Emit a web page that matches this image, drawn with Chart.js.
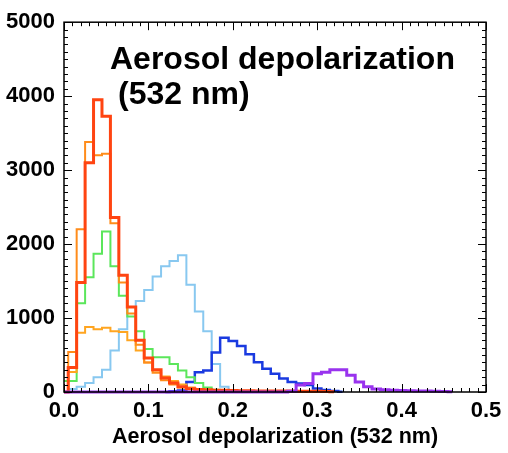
<!DOCTYPE html>
<html>
<head>
<meta charset="utf-8">
<script src="https://cdn.jsdelivr.net/npm/chart.js@4/dist/chart.umd.min.js"></script>
<style>
  html, body { margin: 0; padding: 0; background: #fff; }
</style>
</head>
<body>
<canvas id="depolChart" width="508" height="453"></canvas>
<script>
// histogram bin centres (aerosol depolarization ratio)
const depol = [0.00, 0.01, 0.02, 0.03, 0.04, 0.05, 0.06, 0.07, 0.08, 0.09,
               0.10, 0.11, 0.12, 0.13, 0.14, 0.15, 0.16, 0.17, 0.18, 0.19,
               0.20, 0.21, 0.22, 0.23, 0.24, 0.25, 0.26, 0.27, 0.28, 0.29,
               0.30, 0.31, 0.32, 0.33, 0.34, 0.35, 0.36, 0.37, 0.38, 0.39,
               0.40, 0.41, 0.42, 0.43, 0.44, 0.45, 0.46];

// counts per bin for each aerosol type
const countsRed = [0, 330, 1480, 3100, 3950, 3730, 2360, 1580, 1150, 700,
                   460, 300, 190, 120, 70, 45, 35, 30, 25, 22,
                   20, 18, 16, 15, 14, 13, 12, 12, 11, 10,
                   10, 8, 5, null, null, null, null, null, null, null,
                   null, null, null, null, null, null, null];
const countsOrange = [0, 540, 2200, 3380, 3200, 3220, 2280, 1480, 1060, 640,
                      400, 260, 160, 100, 60, 40, 30, 25, 20, 18,
                      16, 14, 12, 11, 10, 9, 8, 8, 7, 6,
                      5, null, null, null, null, null, null, null, null, null,
                      null, null, null, null, null, null, null];
const countsLtOrange = [0, 270, 800, 880, 850, 870, 820, 810, 700, 560,
                        400, 290, 210, 150, 100, 60, 40, 28, 20, 15,
                        12, 10, 9, 8, 7, 6, 5, 5, 4, 3,
                        2, null, null, null, null, null, null, null, null, null,
                        null, null, null, null, null, null, null];
const countsGreen = [150, 150, 1200, 1550, 1870, 2170, 1700, 1300, 1020, 820,
                     580, 470, 470, 380, 290, 200, 120, 60, 30, 15,
                     8, null, null, null, null, null, null, null, null, null,
                     null, null, null, null, null, null, null, null, null, null,
                     null, null, null, null, null, null, null];
const countsLtBlue = [0, 40, 70, 120, 200, 300, 560, 850, 1150, 1230,
                      1380, 1560, 1700, 1770, 1850, 1450, 1090, 820, 380, 70,
                      10, null, null, null, null, null, null, null, null, null,
                      null, null, null, null, null, null, null, null, null, null,
                      null, null, null, null, null, null, null];
const countsBlue = [null, null, null, null, null, null, null, null, null, null,
                    null, null, 0, 10, 20, 136, 268, 291, 533, 732,
                    688, 622, 512, 401, 313, 247, 181, 136, 115, 93,
                    49, 26, 12, 5, null, null, null, null, null, null,
                    null, null, null, null, null, null, null];
const countsPurple = [0, 0, 0, 0, 0, 0, 0, 0, 0, 0,
                      0, 0, 0, 0, 0, 0, 0, 0, 0, 0,
                      0, 0, 0, 0, 0, 0, 0, 10, 93, 115,
                      247, 268, 300, 300, 225, 136, 70, 40, 30, 25,
                      20, 18, 15, 12, 10, 8, 5];

const xTicks = [0.0, 0.1, 0.2, 0.3, 0.4, 0.5];
const yTicks = [0, 1000, 2000, 3000, 4000, 5000];

const toPoints = counts => depol.map((d, i) => ({ x: d, y: counts[i] }));

const series = [
  { data: countsPurple, color: '#9933ee', width: 3 },
  { data: countsRed, color: '#ff4411', width: 3 },
  { data: countsOrange, color: '#ff8c1a', width: 2 },
  { data: countsLtOrange, color: '#ffa520', width: 2 },
  { data: countsGreen, color: '#5be65b', width: 2 },
  { data: countsBlue, color: '#1a3ae0', width: 2.5 },
  { data: countsLtBlue, color: '#88c8f0', width: 2 }
];

const tickFont = { family: '"Liberation Sans", Arial, sans-serif', size: 22, weight: 'bold' };

// IDL-style box with inward major/minor ticks on all four sides
const boxTicks = {
  id: 'boxTicks',
  afterDatasetsDraw(chart) {
    const { ctx, chartArea: a, scales: { x, y } } = chart;
    ctx.save();
    ctx.strokeStyle = '#000';
    ctx.lineWidth = 1;
    ctx.beginPath();
    for (let i = 0; i <= 50; i++) {
      const px = Math.round(x.getPixelForValue(i / 100)) + 0.5;
      const len = i % 10 === 0 ? 8 : 4;
      ctx.moveTo(px, a.bottom); ctx.lineTo(px, a.bottom - len);
      ctx.moveTo(px, a.top); ctx.lineTo(px, a.top + len);
    }
    for (let i = 0; i <= 50; i++) {
      const py = Math.round(y.getPixelForValue(i * 100)) + 0.5;
      const len = i % 10 === 0 ? 8 : 4;
      ctx.moveTo(a.left, py); ctx.lineTo(a.left + len, py);
      ctx.moveTo(a.right, py); ctx.lineTo(a.right - len, py);
    }
    ctx.stroke();
    ctx.lineWidth = 1.5;
    ctx.strokeRect(a.left, a.top, a.right - a.left, a.bottom - a.top);
    ctx.restore();
  },
  afterDraw(chart) {
    const ctx = chart.ctx;
    ctx.save();
    ctx.fillStyle = '#000';
    ctx.font = 'bold 32px "Liberation Sans", Arial, sans-serif';
    ctx.textBaseline = 'alphabetic';
    ctx.fillText('Aerosol depolarization', 110, 69);
    ctx.fillText('(532 nm)', 118, 104);
    ctx.restore();
  }
};

new Chart(document.getElementById('depolChart'), {
  type: 'line',
  data: {
    datasets: series.map(s => ({
      data: toPoints(s.data),
      borderColor: s.color,
      borderWidth: s.width,
      stepped: 'middle',
      pointRadius: 0,
      fill: false,
      spanGaps: false,
      clip: 3
    }))
  },
  options: {
    responsive: false,
    devicePixelRatio: 1,
    animation: false,
    layout: { padding: { top: 14, right: 22, left: 0, bottom: 0 } },
    plugins: { legend: { display: false }, tooltip: { enabled: false } },
    scales: {
      x: {
        type: 'linear',
        min: 0,
        max: 0.5,
        grid: { display: false, drawTicks: false },
        border: { display: false },
        afterBuildTicks: s => { s.ticks = xTicks.map(v => ({ value: v })); },
        afterFit: s => { s.height = 61; },
        ticks: {
          autoSkip: false,
          maxRotation: 0,
          padding: 6,
          color: '#000',
          font: tickFont,
          callback: v => v.toFixed(1)
        },
        title: {
          display: true,
          text: 'Aerosol depolarization (532 nm)',
          color: '#000',
          font: { family: '"Liberation Sans", Arial, sans-serif', size: 21.5, weight: 'bold' },
          padding: { top: 0, bottom: 3 }
        }
      },
      y: {
        min: 0,
        max: 5000,
        grid: { display: false, drawTicks: false },
        border: { display: false },
        afterBuildTicks: s => { s.ticks = yTicks.map(v => ({ value: v })); },
        afterFit: s => { s.width = 64; },
        ticks: {
          padding: 9,
          color: '#000',
          font: tickFont,
          callback: v => String(v)
        }
      }
    }
  },
  plugins: [boxTicks]
});
</script>
</body>
</html>
